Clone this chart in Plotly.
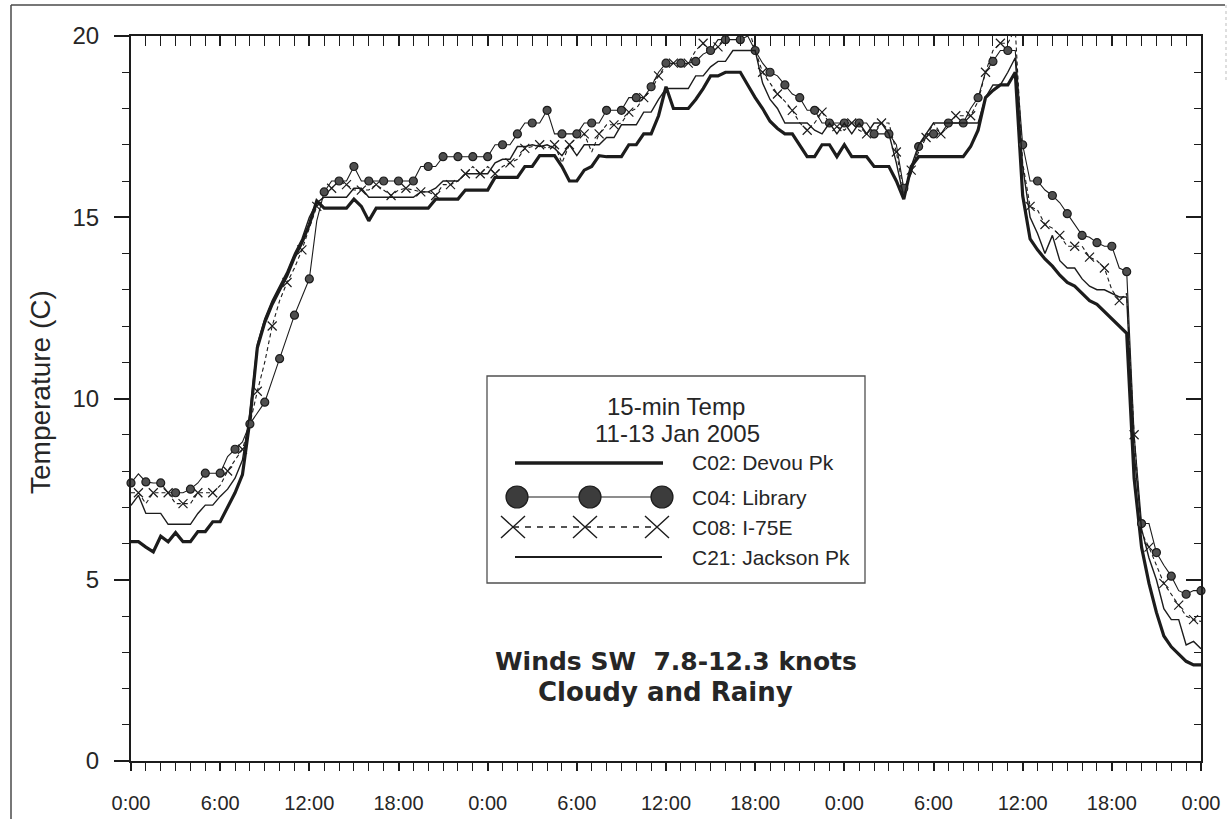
import plotly.graph_objects as go
import pandas as pd

# ---------------- data (30-minute readings, 11 Jan 00:00 -> 14 Jan 00:00) ----------------
times = pd.date_range("2005-01-11 00:00", "2005-01-14 00:00", freq="30min")

c02_devou = [
    6.05, 6.05, 5.9, 5.77, 6.2, 6.05, 6.3, 6.05, 6.05, 6.33, 6.33, 6.6,
    6.6, 7.0, 7.4, 7.9, 9.4, 11.4, 12.1, 12.6, 13.0, 13.4, 13.9, 14.3,
    14.8, 15.45, 15.25, 15.25, 15.25, 15.25, 15.5, 15.3, 14.9, 15.25, 15.25, 15.25,
    15.25, 15.25, 15.25, 15.25, 15.25, 15.5, 15.5, 15.5, 15.5, 15.75, 15.75, 15.75,
    15.75, 16.1, 16.1, 16.1, 16.1, 16.4, 16.4, 16.7, 16.7, 16.7, 16.4, 16.0,
    16.0, 16.3, 16.4, 16.7, 16.67, 16.67, 16.67, 17.0, 17.0, 17.3, 17.3, 17.8,
    18.6, 18.0, 18.0, 18.0, 18.25, 18.55, 18.9, 18.9, 19.0, 19.0, 19.0, 18.65,
    18.3, 18.0, 17.65, 17.45, 17.3, 17.3, 17.0, 16.67, 16.67, 17.0, 17.0, 16.67,
    17.0, 16.67, 16.67, 16.67, 16.4, 16.4, 16.4, 16.0, 15.5, 16.4, 16.67, 16.67,
    16.67, 16.67, 16.67, 16.67, 16.67, 16.95, 17.4, 18.3, 18.5, 18.65, 18.65, 19.0,
    15.6, 14.4, 14.1, 13.85, 13.65, 13.4, 13.2, 13.1, 12.9, 12.7, 12.6, 12.4,
    12.2, 12.0, 11.8, 7.8, 5.9, 4.9, 4.1, 3.45, 3.15, 2.95, 2.75, 2.65,
    2.65,
]

c04_library = [
    7.67, 7.92, 7.7, 7.67, 7.67, 7.4, 7.4, 7.4, 7.5, 7.67, 7.94, 7.94,
    7.94, 8.4, 8.6, 8.8, 9.3, 9.6, 9.9, 10.5, 11.1, 11.7, 12.3, 12.8,
    13.3, 14.9, 15.7, 16.0, 16.0, 16.0, 16.4, 16.0, 16.0, 16.0, 16.0, 16.0,
    16.0, 16.0, 16.0, 16.4, 16.4, 16.4, 16.67, 16.67, 16.67, 16.67, 16.67, 16.67,
    16.67, 17.0, 17.0, 17.0, 17.3, 17.6, 17.6, 17.6, 17.95, 17.3, 17.3, 17.3,
    17.3, 17.6, 17.6, 17.6, 17.95, 17.95, 17.95, 18.3, 18.3, 18.3, 18.6, 19.0,
    19.25, 19.25, 19.25, 19.25, 19.3, 19.5, 19.6, 19.9, 19.9, 19.9, 19.9, 20.0,
    19.6, 19.25, 19.0, 18.9, 18.65, 18.4, 18.3, 17.95, 17.95, 17.6, 17.6, 17.6,
    17.6, 17.6, 17.6, 17.6, 17.3, 17.3, 17.3, 17.0, 15.8, 16.2, 16.95, 17.3,
    17.3, 17.3, 17.6, 17.6, 17.6, 18.0, 18.3, 19.0, 19.3, 19.6, 19.6, 19.6,
    17.0, 16.0, 16.0, 15.75, 15.6, 15.4, 15.1, 14.8, 14.5, 14.45, 14.3, 14.2,
    14.2, 13.6, 13.5, 9.0, 6.55, 6.55, 5.75, 5.4, 5.1, 4.7, 4.6, 4.7,
    4.7,
]

c08_i75e = [
    7.4, 7.4, 7.1, 7.4, 7.4, 7.4, 7.1, 7.1, 7.1, 7.4, 7.4, 7.4,
    7.6, 8.0, 8.3, 8.6, 9.3, 10.2, 11.0, 12.0, 12.7, 13.2, 13.6, 14.1,
    14.7, 15.3, 15.6, 15.8, 16.0, 15.9, 15.75, 15.75, 15.75, 15.9, 15.75, 15.6,
    15.75, 15.8, 15.75, 15.7, 15.7, 15.6, 15.9, 15.9, 16.0, 16.2, 16.4, 16.2,
    16.4, 16.2, 16.4, 16.5, 16.6, 16.9, 16.95, 17.0, 16.9, 17.0, 16.5, 17.0,
    17.2, 17.3, 16.8, 17.3, 17.55, 17.55, 17.6, 17.9, 18.0, 18.3, 18.5, 18.9,
    19.2, 19.25, 19.2, 19.25, 19.6, 19.8, 19.5, 19.7, 20.0, 20.3, 20.0, 20.3,
    19.6, 19.0, 18.7, 18.4, 18.2, 17.95, 17.6, 17.4, 17.6, 17.9, 17.6, 17.5,
    17.4, 17.6, 17.4, 17.3, 17.3, 17.6, 17.6, 16.8, 15.7, 16.3, 16.8, 17.2,
    17.6, 17.3, 17.5, 17.8, 17.8, 17.8, 18.2, 19.0, 19.6, 19.8, 19.8, 20.2,
    16.5, 15.3, 15.2, 14.8, 14.7, 14.5, 14.2, 14.2, 14.2, 13.9, 13.8, 13.6,
    13.0, 12.7, 12.9, 9.0, 6.3, 5.9, 5.4, 4.9, 4.6, 4.3, 4.0, 3.9,
    3.85,
]

c21_jackson = [
    7.05, 7.33, 6.83, 6.83, 6.83, 6.53, 6.53, 6.53, 6.53, 6.83, 7.06, 7.06,
    7.3, 7.5, 7.8, 8.3, 9.6, 11.5, 12.2, 12.7, 13.1, 13.5, 14.0, 14.4,
    15.0, 15.4, 15.55, 15.55, 15.55, 15.55, 15.8, 15.8, 15.55, 15.55, 15.55, 15.55,
    15.55, 15.55, 15.55, 15.7, 15.7, 15.8, 16.0, 16.0, 16.0, 16.2, 16.2, 16.2,
    16.2, 16.5, 16.6, 16.6, 16.95, 16.95, 17.0, 16.95, 17.0, 16.9, 16.7, 17.0,
    16.7, 17.0, 17.0, 17.0, 17.2, 17.2, 17.55, 17.55, 17.55, 17.9, 17.9, 18.25,
    18.55, 18.55, 18.55, 18.55, 18.9, 18.9, 19.15, 19.3, 19.3, 19.6, 19.6, 19.6,
    19.6, 18.7, 18.25, 18.0, 17.6, 17.6, 17.6, 17.6, 17.4, 17.3, 17.6, 17.3,
    17.6, 17.3, 17.6, 17.3, 17.6, 17.6, 17.3, 16.5, 15.55, 16.4, 17.0, 17.3,
    17.6, 17.6, 17.6, 17.6, 17.6, 17.6, 17.6, 18.3, 18.65, 18.65, 19.0, 19.4,
    16.4, 15.0, 14.55, 14.0, 14.5, 13.8, 13.6, 13.6, 13.3, 13.1, 13.0, 13.0,
    12.9, 12.8, 12.8, 8.5, 6.4, 5.6, 5.0, 4.2, 3.9, 3.9, 3.2, 3.3,
    3.1,
]

series_names = ["C02: Devou Pk", "C04: Library", "C08: I-75E", "C21: Jackson Pk"]
legend_title = ["15-min Temp", "11-13 Jan 2005"]
note_lines = ["Winds SW&nbsp;&nbsp;7.8-12.3 knots", "Cloudy and Rainy"]
y_title = "Temperature (C)"

# ---------------- layout helpers (pixel -> paper) ----------------
W, H = 1227, 819
L, R, T, B = 131, 26, 36, 58
PW, PH = W - L - R, H - T - B


def px(x):
    return (x - L) / PW


def py(y):
    return (H - B - y) / PH


FONT = "Liberation Sans, Arial, sans-serif"
BOLD_FONT = "DejaVu Sans, Liberation Sans, sans-serif"
INK = "#1c1c1c"
TXT = "#262626"
HOUR = 3600000
x_range = [times[0], times[-1]]

fig = go.Figure()
fig.add_trace(go.Scatter(x=times, y=c02_devou, mode="lines", name=series_names[0],
                         line=dict(color=INK, width=3.2), showlegend=False, hoverinfo="skip"))
fig.add_trace(go.Scatter(x=times, y=c08_i75e, mode="lines", name=series_names[2],
                         line=dict(color=INK, width=1.1, dash="4px,3px"), showlegend=False, hoverinfo="skip"))
fig.add_trace(go.Scatter(x=times[1::2], y=c08_i75e[1::2], mode="markers", name=series_names[2],
                         marker=dict(symbol="x-thin", size=9, color=INK, line=dict(color=INK, width=1.2)),
                         cliponaxis=False, showlegend=False, hoverinfo="skip"))
fig.add_trace(go.Scatter(x=times, y=c04_library, mode="lines", name=series_names[1],
                         line=dict(color=INK, width=1.1), showlegend=False, hoverinfo="skip"))
fig.add_trace(go.Scatter(x=times[::2], y=c04_library[::2], mode="markers", name=series_names[1],
                         marker=dict(symbol="circle", size=8, color="#4f4f4f", line=dict(color=INK, width=1.2)),
                         cliponaxis=False, showlegend=False, hoverinfo="skip"))
# C21 drawn on the mirror axes (same ranges), which also makes the inward mirror ticks appear
fig.add_trace(go.Scatter(x=times, y=c21_jackson, mode="lines", name=series_names[3],
                         line=dict(color=INK, width=1.4), xaxis="x2", yaxis="y2",
                         showlegend=False, hoverinfo="skip"))

axis_common = dict(showgrid=False, zeroline=False, tickcolor=INK, tickwidth=1.5, automargin=False)

fig.update_layout(
    width=W, height=H,
    margin=dict(l=L, r=R, t=T, b=B, autoexpand=False),
    paper_bgcolor="white", plot_bgcolor="white",
    font=dict(family=FONT, color=TXT),
    showlegend=False,
    xaxis=dict(type="date", range=x_range, tick0=times[0], dtick=6 * HOUR, tickformat="%-H:%M",
               ticks="outside", ticklen=8, showline=True, linewidth=2, linecolor=INK, mirror=True,
               tickfont=dict(size=20, color=TXT), ticklabelstandoff=15,
               minor=dict(dtick=HOUR, ticks="outside", ticklen=8, tickcolor=INK, tickwidth=1.2),
               **axis_common),
    yaxis=dict(range=[0, 20], tick0=0, dtick=5, ticks="outside", ticklen=15,
               showline=True, linewidth=2, linecolor=INK, mirror=True,
               tickfont=dict(size=24, color=TXT), ticklabelstandoff=10,
               minor=dict(dtick=1, ticks="outside", ticklen=7, tickcolor=INK, tickwidth=1.2),
               **axis_common),
    xaxis2=dict(type="date", overlaying="x", side="top", anchor="y", range=x_range,
                tick0=times[0], dtick=6 * HOUR, ticks="inside", ticklen=10, showticklabels=False,
                showline=False,
                minor=dict(dtick=HOUR, ticks="inside", ticklen=10, tickcolor=INK, tickwidth=1.2),
                **axis_common),
    yaxis2=dict(overlaying="y", side="right", anchor="x", range=[0, 20], tick0=0, dtick=5,
                ticks="inside", ticklen=15, showticklabels=False, showline=False,
                minor=dict(dtick=1, ticks="inside", ticklen=7, tickcolor=INK, tickwidth=1.2),
                **axis_common),
)

shapes = []
# outer frame of the scanned figure (left and top edges, faint right edge)
shapes.append(dict(type="line", xref="paper", yref="paper", x0=px(11), x1=px(11), y0=py(5), y1=py(830),
                   line=dict(color="#4a4a4a", width=1.5)))
shapes.append(dict(type="line", xref="paper", yref="paper", x0=px(11), x1=px(1225), y0=py(5), y1=py(5),
                   line=dict(color="#4a4a4a", width=1.5)))
shapes.append(dict(type="line", xref="paper", yref="paper", x0=px(1226), x1=px(1226), y0=py(5), y1=py(80),
                   line=dict(color="#bdbdbd", width=1, dash="dot")))

# legend box
shapes.append(dict(type="rect", xref="paper", yref="paper", x0=px(487), x1=px(865), y0=py(583), y1=py(376),
                   line=dict(color="#505050", width=1.3), fillcolor="white", layer="below"))
row_y = [463, 497, 527, 557]
# C02 sample
shapes.append(dict(type="line", xref="paper", yref="paper", x0=px(515), x1=px(663), y0=py(row_y[0]), y1=py(row_y[0]),
                   line=dict(color=INK, width=3.5)))
# C04 sample
shapes.append(dict(type="line", xref="paper", yref="paper", x0=px(517), x1=px(662), y0=py(row_y[1]), y1=py(row_y[1]),
                   line=dict(color=INK, width=1.2)))
for cx in (517, 590, 662):
    shapes.append(dict(type="circle", xref="paper", yref="paper", xsizemode="pixel", ysizemode="pixel",
                       xanchor=px(cx), yanchor=py(row_y[1]), x0=-11, x1=11, y0=-11, y1=11,
                       fillcolor="#3c3c3c", line=dict(color=INK, width=1.2)))
# C08 sample
shapes.append(dict(type="line", xref="paper", yref="paper", x0=px(513), x1=px(657), y0=py(row_y[2]), y1=py(row_y[2]),
                   line=dict(color=INK, width=1.4, dash="6px,6px")))
for cx in (513, 585, 657):
    shapes.append(dict(type="path", xref="paper", yref="paper", xsizemode="pixel", ysizemode="pixel",
                       xanchor=px(cx), yanchor=py(row_y[2]), path="M -12,-11 L 12,11 M -12,11 L 12,-11",
                       line=dict(color=INK, width=1.4)))
# C21 sample
shapes.append(dict(type="line", xref="paper", yref="paper", x0=px(515), x1=px(662), y0=py(row_y[3]), y1=py(row_y[3]),
                   line=dict(color=INK, width=2)))

annotations = []
annotations.append(dict(text=legend_title[0], x=px(676), y=py(407), xref="paper", yref="paper",
                        showarrow=False, xanchor="center", yanchor="middle", font=dict(size=24, color=TXT)))
annotations.append(dict(text=legend_title[1], x=px(677), y=py(433), xref="paper", yref="paper",
                        showarrow=False, xanchor="center", yanchor="middle", font=dict(size=24, color=TXT)))
for name, ry in zip(series_names, row_y):
    annotations.append(dict(text=name, x=px(690), y=py(ry), xref="paper", yref="paper",
                            showarrow=False, xanchor="left", yanchor="middle", font=dict(size=21, color=TXT)))
annotations.append(dict(text="<b>" + note_lines[0] + "</b>", x=px(676), y=py(661), xref="paper", yref="paper",
                        showarrow=False, xanchor="center", yanchor="middle",
                        font=dict(size=25, color=TXT, family=BOLD_FONT)))
annotations.append(dict(text="<b>" + note_lines[1] + "</b>", x=px(665), y=py(692), xref="paper", yref="paper",
                        showarrow=False, xanchor="center", yanchor="middle",
                        font=dict(size=26, color=TXT, family=BOLD_FONT)))
annotations.append(dict(text=y_title, x=px(40), y=py(392), xref="paper", yref="paper", textangle=-90,
                        showarrow=False, xanchor="center", yanchor="middle", font=dict(size=28, color=TXT)))

fig.update_layout(shapes=shapes, annotations=annotations)
fig.write_html("out.html")
